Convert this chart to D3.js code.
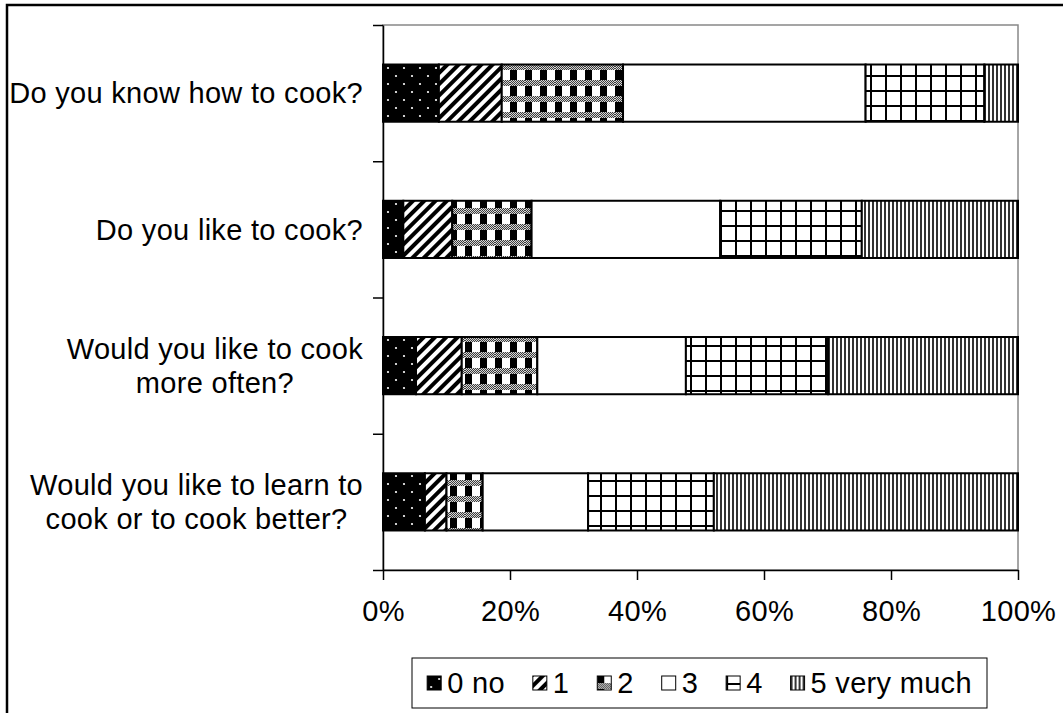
<!DOCTYPE html>
<html>
<head>
<meta charset="utf-8">
<script src="https://cdn.jsdelivr.net/npm/d3@7"></script>
<style>
  body { margin: 0; background: #fff; }
  text { font-family: "Liberation Sans", Arial, sans-serif; font-size: 29px; fill: #000; letter-spacing: 0.3px; }
</style>
</head>
<body>
<script>
// data //
const questions = [
  "Do you know how to cook?",
  "Do you like to cook?",
  "Would you like to cook more often?",
  "Would you like to learn to cook or to cook better?"
];
const questionLines = [
  ["Do you know how to cook?"],
  ["Do you like to cook?"],
  ["Would you like to cook", "more often?"],
  ["Would you like to learn to", "cook or to cook better?"]
];
const answers = ["0 no", "1", "2", "3", "4", "5 very much"];

// percent of answers per question, one array per answer level
const ans0 = [8.8, 3.2, 5.2, 6.6];
const ans1 = [9.9, 7.7, 7.2, 3.4];
const ans2 = [19.1, 12.5, 11.9, 5.7];
const ans3 = [38.2, 29.7, 23.4, 16.6];
const ans4 = [18.7, 22.3, 22.4, 19.8];
const ans5 = [5.3, 24.6, 29.9, 47.9];

const xTicks = [0, 20, 40, 60, 80, 100];

const series = [ans0, ans1, ans2, ans3, ans4, ans5];
const rows = questions.map((q, i) => {
  const r = { q: q };
  answers.forEach((a, j) => { r[a] = series[j][i]; });
  return r;
});

const W = 1063, H = 713;
const plot = { left: 383, right: 1018, top: 25, bottom: 570 };

const svg = d3.select('body').append('svg')
  .attr('width', W)
  .attr('height', H);

// patterns //
const defs = svg.append('defs');

// fine checker used inside pattern 2
const pc = defs.append('pattern').attr('id', 'pc')
  .attr('patternUnits', 'userSpaceOnUse').attr('width', 2).attr('height', 2);
pc.append('rect').attr('width', 2).attr('height', 2).attr('fill', '#fff');
pc.append('rect').attr('width', 1).attr('height', 1).attr('fill', '#000');
pc.append('rect').attr('x', 1).attr('y', 1).attr('width', 1).attr('height', 1).attr('fill', '#000');

const p0 = defs.append('pattern').attr('id', 'p0')
  .attr('patternUnits', 'userSpaceOnUse').attr('width', 16).attr('height', 16);
p0.append('rect').attr('width', 16).attr('height', 16).attr('fill', '#000');
p0.append('circle').attr('cx', 4).attr('cy', 4).attr('r', 1.1).attr('fill', '#fff');
p0.append('circle').attr('cx', 12).attr('cy', 12).attr('r', 1.1).attr('fill', '#fff');

const p1 = defs.append('pattern').attr('id', 'p1')
  .attr('patternUnits', 'userSpaceOnUse').attr('width', 8).attr('height', 8)
  .attr('patternTransform', 'rotate(45)');
p1.append('rect').attr('width', 8).attr('height', 8).attr('fill', '#fff');
p1.append('rect').attr('width', 4).attr('height', 8).attr('fill', '#000');

const p2 = defs.append('pattern').attr('id', 'p2')
  .attr('patternUnits', 'userSpaceOnUse').attr('width', 15).attr('height', 16);
p2.append('rect').attr('width', 15).attr('height', 16).attr('fill', '#fff');
p2.append('rect').attr('width', 7).attr('height', 16).attr('fill', '#000');
p2.append('rect').attr('y', 0).attr('width', 15).attr('height', 6).attr('fill', '#999');
p2.append('rect').attr('y', 0).attr('width', 15).attr('height', 6).attr('fill', 'url(#pc)').attr('opacity', 0.6);

const p3 = defs.append('pattern').attr('id', 'p3')
  .attr('patternUnits', 'userSpaceOnUse').attr('width', 10).attr('height', 10);
p3.append('rect').attr('width', 10).attr('height', 10).attr('fill', '#fff');

const p4 = defs.append('pattern').attr('id', 'p4')
  .attr('patternUnits', 'userSpaceOnUse').attr('width', 15).attr('height', 15);
p4.append('rect').attr('width', 15).attr('height', 15).attr('fill', '#fff');
p4.append('rect').attr('width', 2).attr('height', 15).attr('fill', '#000');
p4.append('rect').attr('width', 15).attr('height', 2).attr('fill', '#000');

const p5 = defs.append('pattern').attr('id', 'p5')
  .attr('patternUnits', 'userSpaceOnUse').attr('width', 4).attr('height', 4);
p5.append('rect').attr('width', 4).attr('height', 4).attr('fill', '#fff');
p5.append('rect').attr('width', 2).attr('height', 4).attr('fill', '#333');

const fills = ['url(#p0)', 'url(#p1)', 'url(#p2)', 'url(#p3)', 'url(#p4)', 'url(#p5)'];

// outer chart border (cropped on right and bottom)
svg.append('rect')
  .attr('x', 7).attr('y', 5)
  .attr('width', 1200).attr('height', 900)
  .attr('fill', 'none').attr('stroke', '#000').attr('stroke-width', 2.5);

// scales //
const x = d3.scaleLinear().domain([0, 100]).range([plot.left, plot.right]);
const y = d3.scaleBand().domain(questions)
  .range([plot.top, plot.bottom])
  .paddingInner(0.58).paddingOuter(0.29);
const yb = d3.scaleLinear().domain([0, questions.length]).range([plot.top, plot.bottom]);

// plot area border
svg.append('rect')
  .attr('x', plot.left).attr('y', plot.top)
  .attr('width', plot.right - plot.left).attr('height', plot.bottom - plot.top)
  .attr('fill', 'none').attr('stroke', '#888').attr('stroke-width', 1.5);

// bars //
const stack = d3.stack().keys(answers)(rows);

svg.append('g').selectAll('g')
  .data(stack)
  .enter().append('g')
  .attr('fill', (d, i) => fills[i])
  .selectAll('rect')
  .data(d => d)
  .enter().append('rect')
  .attr('x', d => x(d[0]))
  .attr('y', d => y(d.data.q))
  .attr('width', d => x(d[1]) - x(d[0]))
  .attr('height', y.bandwidth())
  .attr('stroke', '#000')
  .attr('stroke-width', 2);

// axes //
const yAxis = svg.append('g')
  .attr('transform', 'translate(' + plot.left + ',0)')
  .call(d3.axisLeft(yb).tickValues(d3.range(questions.length + 1)).tickFormat('').tickSize(10).tickSizeOuter(0));
yAxis.selectAll('line, path').attr('stroke', '#000').attr('stroke-width', 1.5);

const xAxis = svg.append('g')
  .attr('transform', 'translate(0,' + plot.bottom + ')')
  .call(d3.axisBottom(x).tickValues(xTicks).tickFormat(d => d + '%').tickSize(10).tickSizeOuter(0).tickPadding(20));
xAxis.selectAll('line, path').attr('stroke', '#000').attr('stroke-width', 1.5);
xAxis.selectAll('text').style('font-size', '29px').attr('fill', '#000');

// category labels //
const lh = 34;
questions.forEach((q, i) => {
  const g = svg.append('g');
  const lines = questionLines[i];
  const cy = y(q) + y.bandwidth() / 2;
  const t = g.selectAll('text').data(lines).enter().append('text')
    .attr('y', (d, k) => cy - (lines.length - 1) * lh / 2 + k * lh)
    .attr('dy', '0.35em')
    .text(d => d);
  const maxW = d3.max(t.nodes(), n => n.getComputedTextLength());
  t.attr('x', 363 - maxW / 2).attr('text-anchor', 'middle');
});

// legend //
const legBox = { x: 412, y: 658, w: 575, h: 50 };
svg.append('rect')
  .attr('x', legBox.x).attr('y', legBox.y)
  .attr('width', legBox.w).attr('height', legBox.h)
  .attr('fill', '#fff').attr('stroke', '#000').attr('stroke-width', 1);

const sw = 14, gapIn = 6;
const legend = svg.append('g');
const items = legend.selectAll('g').data(answers).enter().append('g');
items.append('rect')
  .attr('width', sw).attr('height', sw)
  .attr('y', -sw / 2)
  .attr('fill', (d, i) => fills[i])
  .attr('stroke', '#000').attr('stroke-width', 1);
items.append('text')
  .attr('x', sw + gapIn)
  .attr('dy', '0.35em')
  .text(d => d);

const widths = items.nodes().map(n => sw + gapIn + n.querySelector('text').getComputedTextLength());
const gapOut = 28;
const total = d3.sum(widths) + gapOut * (widths.length - 1);
let cx = legBox.x + (legBox.w - total) / 2;
items.each(function(d, i) {
  d3.select(this).attr('transform', 'translate(' + cx + ',' + (legBox.y + legBox.h / 2) + ')');
  cx += widths[i] + gapOut;
});
</script>
</body>
</html>
